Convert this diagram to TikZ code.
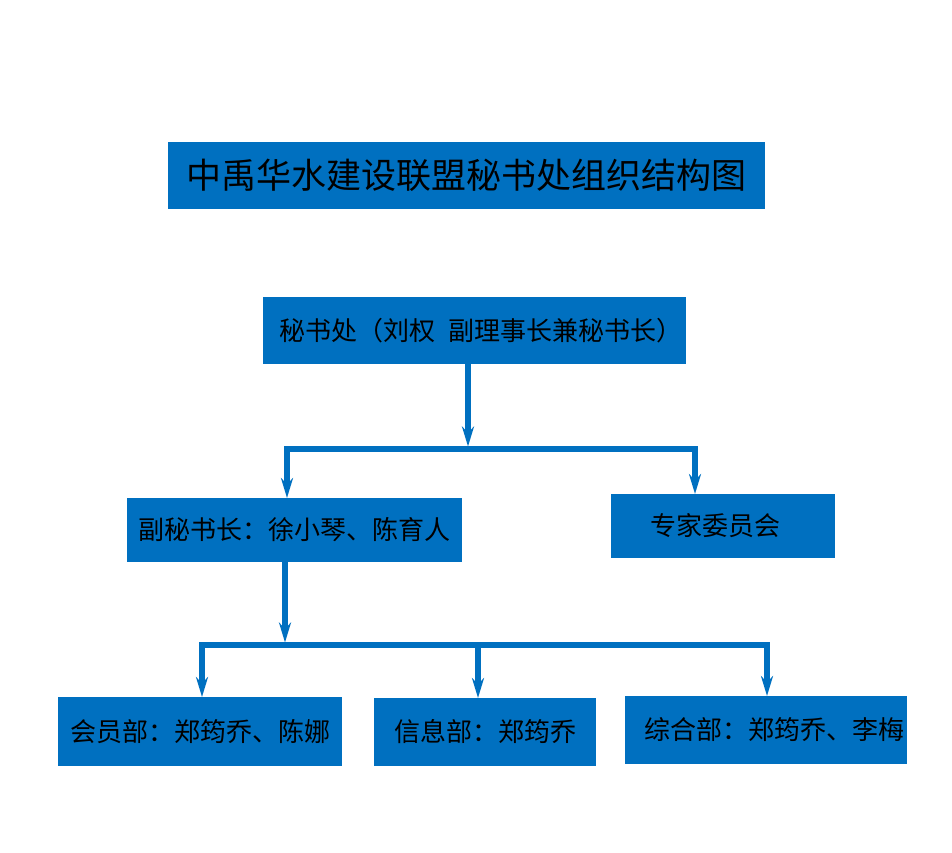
\documentclass[tikz,border=0pt]{standalone}
\usepackage{fontspec}
\setmainfont{Noto Sans CJK SC}
\usetikzlibrary{arrows.meta,calc}
\definecolor{orgblue}{HTML}{0070C0}

\begin{document}
\begin{tikzpicture}[->,>={Stealth[length=20pt,width=12pt]},x=1pt,y=-1pt,
line width=5.5pt,color=orgblue,
unit/.style={fill=orgblue,draw=none,inner sep=0pt,outer sep=0pt,text=black,
font=\fontsize{26pt}{30pt}\selectfont}]
\useasboundingbox (0,0) rectangle (952,853);
\node[unit,minimum width=597pt,minimum height=67pt,font=\fontsize{35pt}{40pt}\selectfont] (title) at (466.5,175.5) {中禹华水建设联盟秘书处组织结构图};
\node[unit,minimum width=423pt,minimum height=67pt] (mishu) at (474.5,330.5) {\kern13pt秘书处（刘权\hspace{8pt} 副理事长兼秘书长）};
\node[unit,minimum width=335pt,minimum height=64pt] (fumishu) at (294.5,530) {副秘书长：徐小琴、陈育人};
\node[unit,minimum width=224pt,minimum height=64pt] (zhuanjia) at (723,526) {专家委员会\kern16pt};
\node[unit,minimum width=284pt,minimum height=69pt] (huiyuan) at (200,731.5) {会员部：郑筠乔、陈娜};
\node[unit,minimum width=222pt,minimum height=68pt] (xinxi) at (485,732) {信息部：郑筠乔};
\node[unit,minimum width=282pt,minimum height=68pt] (zonghe) at (766,730) {\kern16pt综合部：郑筠乔、李梅};
% branch points
\coordinate (b1) at (468,449);
\coordinate (b1l) at (287,449);
\coordinate (b1r) at (695,449);
\coordinate (b2) at (285,645);
\coordinate (b2l) at (202,645);
\coordinate (b2m) at (478,645);
\coordinate (b2r) at (767,645);
\draw[shorten >=2.5pt] (b1 |- mishu.south) -- (b1);
\draw (b1) -| (b1l |- fumishu.north);
\draw (b1) -| (b1r |- zhuanjia.north);
\draw[shorten >=2.5pt] (b2 |- fumishu.south) -- (b2);
\draw (b2) -| (b2l |- huiyuan.north);
\draw (b2) -| (b2r |- zonghe.north);
\draw (b2m) -- (b2m |- xinxi.north);
\end{tikzpicture}
\end{document}
